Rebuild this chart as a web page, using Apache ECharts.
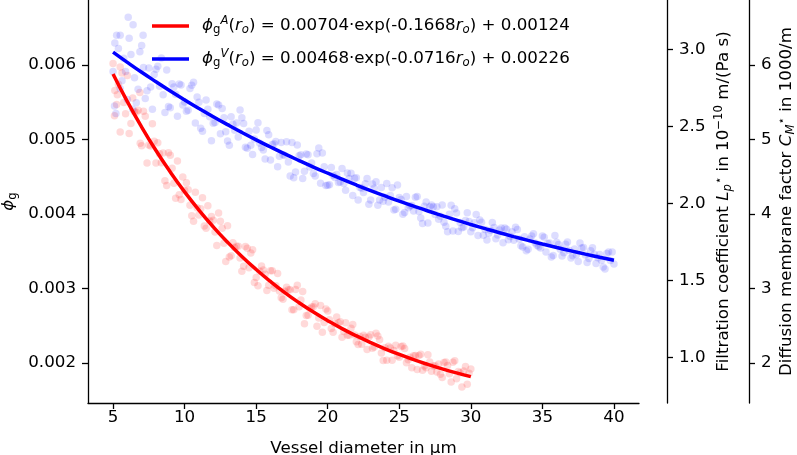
<!DOCTYPE html>
<html><head><meta charset="utf-8">
<script src="https://cdn.jsdelivr.net/npm/echarts@6/dist/echarts.min.js"></script>
<style>html,body{margin:0;padding:0;background:#fff}#c{width:797px;height:455px}</style>
</head><body><div id="c"></div>
<script>
// ---- data ----
const xTicks = [5,10,15,20,25,30,35,40];
const phiTicks = [0.002,0.003,0.004,0.005,0.006];
const lpTicks = [1.0,1.5,2.0,2.5,3.0];
const cmTicks = [2,3,4,5,6];

const redFitX = [5,6,7,8,9,10,11,12,13,14,15,16,17,18,19,20,21,22,23,24,25,26,27,28,29,30];
const redFitY = [0.005879,0.005508,0.005167,0.004852,0.004563,0.004297,0.004053,0.003828,0.003621,0.003430,0.003255,0.003094,0.002945,0.002809,0.002683,0.002568,0.002461,0.002364,0.002274,0.002191,0.002115,0.002045,0.001981,0.001921,0.001867,0.001817];
const blueFitX = [5,6,7,8,9,10,11,12,13,14,15,16,17,18,19,20,21,22,23,24,25,26,27,28,29,30,31,32,33,34,35,36,37,38,39,40];
const blueFitY = [0.006173,0.006035,0.005902,0.005775,0.005651,0.005532,0.005417,0.005306,0.005199,0.005095,0.004995,0.004899,0.004806,0.004717,0.004630,0.004547,0.004467,0.004389,0.004314,0.004242,0.004172,0.004105,0.004040,0.003978,0.003917,0.003859,0.003803,0.003748,0.003696,0.003646,0.003597,0.003550,0.003505,0.003461,0.003419,0.003378];

const redPoints = [[5.00,0.006019],[5.25,0.005471],[5.50,0.005974],[5.75,0.005496],[6.00,0.005858],[6.25,0.005213],[6.50,0.005373],[6.75,0.005392],[7.00,0.004915],[7.25,0.005312],[7.50,0.004926],[7.75,0.005211],[8.00,0.004684],[8.25,0.004808],[8.50,0.004820],[8.75,0.004383],[9.00,0.004787],[9.25,0.004413],[9.50,0.004710],[9.75,0.004196],[10.00,0.004319],[10.25,0.004324],[10.50,0.003977],[10.75,0.004290],[11.00,0.003987],[11.25,0.004217],[11.50,0.003809],[11.75,0.003906],[12.00,0.003916],[12.25,0.003578],[12.50,0.003901],[12.75,0.003607],[13.00,0.003841],[13.25,0.003441],[13.50,0.003548],[13.75,0.003566],[14.00,0.003232],[14.25,0.003562],[14.50,0.003277],[14.75,0.003519],[15.00,0.003147],[15.25,0.003233],[15.50,0.003247],[15.75,0.002972],[16.00,0.003238],[16.25,0.003003],[16.50,0.003200],[16.75,0.002874],[17.00,0.002963],[17.25,0.002983],[17.50,0.002715],[17.75,0.002987],[18.00,0.002755],[18.25,0.002958],[18.50,0.002638],[18.75,0.002733],[19.00,0.002755],[19.25,0.002492],[19.50,0.002770],[19.75,0.002543],[20.00,0.002698],[20.25,0.002463],[20.50,0.002528],[20.75,0.002540],[21.00,0.002344],[21.25,0.002541],[21.50,0.002374],[21.75,0.002518],[22.00,0.002286],[22.25,0.002355],[22.50,0.002371],[22.75,0.002180],[23.00,0.002378],[23.25,0.002214],[23.50,0.002363],[23.75,0.002134],[24.00,0.002204],[24.25,0.002224],[24.50,0.002036],[24.75,0.002238],[25.00,0.002076],[25.25,0.002228],[25.50,0.002002],[25.75,0.002076],[26.00,0.002097],[26.25,0.001912],[26.50,0.002117],[26.75,0.001958],[27.00,0.002111],[27.25,0.001888],[27.50,0.001964],[27.75,0.001988],[28.00,0.001804],[28.25,0.002012],[28.50,0.001855],[28.75,0.002011],[29.00,0.001789],[29.25,0.001868],[29.50,0.001894],[29.75,0.001713],[30.00,0.001921],
[5.125,0.005658],[5.625,0.005892],[6.125,0.005080],[6.625,0.005365],[7.125,0.005380],[7.625,0.004914],[8.125,0.004956],[8.625,0.004447],[9.125,0.004614],[9.625,0.004257],[10.125,0.004420],[10.625,0.003902],[11.125,0.004069],[11.625,0.004110],[12.125,0.003758],[12.625,0.003809],[13.125,0.003421],[13.625,0.003568],[14.125,0.003298],[14.625,0.003475],[15.125,0.003037],[15.625,0.003190],[16.125,0.003237],[16.625,0.002965],[17.125,0.003018],[17.625,0.002716],[18.125,0.002847],[18.625,0.002640],[19.125,0.002795],[19.625,0.002413],[20.125,0.002581],[20.625,0.002618],[21.125,0.002423],[21.625,0.002465],[22.125,0.002249],[22.625,0.002347],[23.125,0.002199],[23.625,0.002313],[24.125,0.002038],[24.625,0.002169],[25.125,0.002223],[25.625,0.002045],[26.125,0.002102],[26.625,0.001901],[27.125,0.002012],[27.625,0.001878],[28.125,0.002005],[28.625,0.001744],[29.125,0.001887],[29.625,0.001953],
[5.375,0.005740],[5.875,0.005344],[6.375,0.005555],[6.875,0.005630],[7.375,0.004685],[7.875,0.004975],[8.375,0.004688],[8.875,0.004823],[9.375,0.004211],[9.875,0.004498],[10.375,0.004117],[10.875,0.004083],[11.375,0.003837],[11.875,0.003966],[12.375,0.004014],[12.875,0.003361],[13.375,0.003615],[13.875,0.003410],[14.375,0.003540],[14.875,0.003079],[15.375,0.003303],[15.875,0.003042],[16.375,0.003038],[16.875,0.002856],[17.375,0.002984],[17.875,0.003042],[18.375,0.002528],[18.875,0.002753],[19.375,0.002604],[19.875,0.002726],[20.375,0.002411],[20.875,0.002552],[21.375,0.002373],[21.875,0.002376],[22.375,0.002252],[22.875,0.002350],[23.375,0.002399],[23.875,0.002032],[24.375,0.002201],[24.875,0.002098],[25.375,0.002193],[25.875,0.001937],[26.375,0.002099],[26.875,0.001937],[27.375,0.001958],[27.875,0.001850],[28.375,0.001966],[28.875,0.002030],[29.375,0.001679],[29.875,0.001862],
[5.5,0.00510],[5.1,0.00532],[5.3,0.00560],[6.9,0.00495]];

const bluePoints = [[5.00,0.005913],[5.25,0.006398],[5.50,0.005684],[5.75,0.006090],[6.00,0.005535],[6.25,0.006142],[6.50,0.005829],[6.75,0.005675],[7.00,0.006262],[7.25,0.005550],[7.50,0.005959],[7.75,0.005407],[8.00,0.005943],[8.25,0.005716],[8.50,0.005601],[8.75,0.005934],[9.00,0.005427],[9.25,0.005705],[9.50,0.005312],[9.75,0.005730],[10.00,0.005504],[10.25,0.005391],[10.50,0.005727],[10.75,0.005222],[11.00,0.005501],[11.25,0.005109],[11.50,0.005530],[11.75,0.005306],[12.00,0.005218],[12.25,0.005477],[12.50,0.005077],[12.75,0.005292],[13.00,0.004979],[13.25,0.005305],[13.50,0.005125],[13.75,0.005033],[14.00,0.005293],[14.25,0.004894],[14.50,0.005111],[14.75,0.004800],[15.00,0.005127],[15.25,0.004949],[15.50,0.004859],[15.75,0.005121],[16.00,0.004723],[16.25,0.004942],[16.50,0.004633],[16.75,0.004961],[17.00,0.004784],[17.25,0.004696],[17.50,0.004960],[17.75,0.004563],[18.00,0.004783],[18.25,0.004475],[18.50,0.004806],[18.75,0.004630],[19.00,0.004542],[19.25,0.004807],[19.50,0.004413],[19.75,0.004634],[20.00,0.004387],[20.25,0.004623],[20.50,0.004491],[20.75,0.004423],[21.00,0.004611],[21.25,0.004320],[21.50,0.004476],[21.75,0.004249],[22.00,0.004485],[22.25,0.004354],[22.50,0.004288],[22.75,0.004477],[23.00,0.004186],[23.25,0.004344],[23.50,0.004118],[23.75,0.004356],[24.00,0.004226],[24.25,0.004161],[24.50,0.004351],[24.75,0.004062],[25.00,0.004220],[25.25,0.003995],[25.50,0.004235],[25.75,0.004106],[26.00,0.004041],[26.25,0.004233],[26.50,0.003945],[26.75,0.004104],[27.00,0.003880],[27.25,0.004121],[27.50,0.003993],[27.75,0.003930],[28.00,0.004122],[28.25,0.003835],[28.50,0.003996],[28.75,0.003772],[29.00,0.004013],[29.25,0.003887],[29.50,0.003824],[29.75,0.004018],[30.00,0.003763],[30.25,0.003881],[30.50,0.003711],[30.75,0.003889],[31.00,0.003791],[31.25,0.003741],[31.50,0.003884],[31.75,0.003666],[32.00,0.003784],[32.25,0.003615],[32.50,0.003794],[32.75,0.003697],[33.00,0.003648],[33.25,0.003792],[33.50,0.003575],[33.75,0.003695],[34.00,0.003526],[34.25,0.003706],[34.50,0.003610],[34.75,0.003561],[35.00,0.003705],[35.25,0.003489],[35.50,0.003610],[35.75,0.003442],[36.00,0.003622],[36.25,0.003527],[36.50,0.003480],[36.75,0.003624],[37.00,0.003409],[37.25,0.003530],[37.50,0.003363],[37.75,0.003544],[38.00,0.003449],[38.25,0.003403],[38.50,0.003548],[38.75,0.003334],[39.00,0.003455],[39.25,0.003289],[39.50,0.003471],[39.75,0.003376],[40.00,0.003330],
[5.125,0.006296],[5.625,0.005787],[6.125,0.006358],[6.625,0.005492],[7.125,0.005966],[7.625,0.005703],[8.125,0.005984],[8.625,0.005361],[9.125,0.005748],[9.625,0.005745],[10.125,0.005378],[10.625,0.005768],[11.125,0.005151],[11.625,0.005404],[12.125,0.005227],[12.625,0.005415],[13.125,0.004922],[13.625,0.005222],[14.125,0.005214],[14.625,0.004922],[15.125,0.005225],[15.625,0.004737],[16.125,0.004931],[16.625,0.004775],[17.125,0.004971],[17.625,0.004486],[18.125,0.004794],[18.625,0.004795],[19.125,0.004510],[19.625,0.004820],[20.125,0.004393],[20.625,0.004529],[21.125,0.004409],[21.625,0.004546],[22.125,0.004188],[22.625,0.004406],[23.125,0.004401],[23.625,0.004189],[24.125,0.004409],[24.625,0.004054],[25.125,0.004196],[25.625,0.004082],[26.125,0.004225],[26.625,0.003872],[27.125,0.004096],[27.625,0.004097],[28.125,0.003890],[28.625,0.004116],[29.125,0.003766],[29.625,0.003913],[30.125,0.003816],[30.625,0.003920],[31.125,0.003652],[31.625,0.003817],[32.125,0.003813],[32.625,0.003655],[33.125,0.003822],[33.625,0.003557],[34.125,0.003664],[34.625,0.003579],[35.125,0.003687],[35.625,0.003424],[36.125,0.003592],[36.625,0.003594],[37.125,0.003439],[37.625,0.003609],[38.125,0.003348],[38.625,0.003459],[39.125,0.003378],[39.625,0.003489],
[5.375,0.006221],[5.875,0.005912],[6.375,0.005405],[6.875,0.006179],[7.375,0.005654],[7.875,0.005871],[8.375,0.006092],[8.875,0.005442],[9.375,0.005606],[9.875,0.005463],[10.375,0.005685],[10.875,0.005571],[11.375,0.005347],[11.875,0.004984],[12.375,0.005464],[12.875,0.005102],[13.375,0.005204],[13.875,0.005394],[14.375,0.004881],[14.875,0.005007],[15.375,0.004893],[15.875,0.005065],[16.375,0.004974],[16.875,0.004796],[17.375,0.004509],[17.875,0.004926],[18.375,0.004574],[18.875,0.004685],[19.375,0.004885],[19.875,0.004381],[20.375,0.004517],[20.875,0.004429],[21.375,0.004550],[21.875,0.004479],[22.375,0.004345],[22.875,0.004131],[23.375,0.004431],[23.875,0.004171],[24.375,0.004248],[24.875,0.004389],[25.375,0.004019],[25.875,0.004113],[26.375,0.004033],[26.875,0.004160],[27.375,0.004097],[27.875,0.003970],[28.375,0.003763],[28.875,0.004069],[29.375,0.003815],[29.875,0.003898],[30.375,0.003994],[30.875,0.003714],[31.375,0.003782],[31.875,0.003719],[32.375,0.003812],[32.875,0.003762],[33.375,0.003665],[33.875,0.003508],[34.375,0.003736],[34.875,0.003543],[35.375,0.003603],[35.875,0.003712],[36.375,0.003437],[36.875,0.003511],[37.375,0.003452],[37.875,0.003550],[38.375,0.003505],[38.875,0.003412],[39.375,0.003260],[39.875,0.003491],
[6.06,0.00664],[6.4,0.00654],[7.1,0.00640],[5.5,0.00640],[5.1,0.00545],[5.2,0.00535]];

const legendA = '{f|ϕ}{sub|g}{sup|A}{n|(}{it|r}{sub2|o}{n|) = 0.00704·exp(-0.1668}{it|r}{sub2|o}{n|) + 0.00124}';
const legendV = '{f|ϕ}{sub|g}{sup|V}{n|(}{it|r}{sub2|o}{n|) = 0.00468·exp(-0.0716}{it|r}{sub2|o}{n|) + 0.00226}';

// ---- styles ----
const FONT = 'DejaVu Sans';
const FS = 16.7;
const rich = {
  n: {fontSize: FS, fontFamily: FONT, color: '#000'},
  it: {fontSize: FS, fontFamily: FONT, fontStyle: 'italic', color: '#000'},
  f: {fontSize: FS, fontFamily: FONT, fontStyle: 'italic', color: '#000', padding: [0,0,0,8]},
  sub: {fontSize: 11.7, fontFamily: FONT, color: '#000', padding: [8,0,0,0]},
  sub2: {fontSize: 11.7, fontFamily: FONT, fontStyle: 'italic', color: '#000', padding: [8,0,0,0]},
  sup: {fontSize: 11.7, fontFamily: FONT, fontStyle: 'italic', color: '#000', padding: [0,0,10,0]},
  sup2: {fontSize: 11.7, fontFamily: FONT, color: '#000', padding: [0,0,10,0]}
};
const richAx = Object.assign({}, rich, {f: rich.it});

const axisCommon = {
  axisLine: {show: true, lineStyle: {color: '#000', width: 1.3}},
  splitLine: {show: false},
  nameMoveOverlap: false
};
const tickStyle = {color: '#000', width: 1.3};
const labelStyle = {color: '#000', fontSize: FS, fontFamily: FONT};

const chart = echarts.init(document.getElementById('c'), null, {renderer: 'canvas'});
chart.setOption({
  animation: false,
  backgroundColor: '#fff',
  grid: {left: 88, right: 158, top: 0, bottom: 52, containLabel: false, outerBoundsMode: 'none'},
  legend: {
    data: [{name: 'A', icon: 'rect'}, {name: 'V', icon: 'rect'}],
    orient: 'vertical', left: 147, top: 10,
    itemWidth: 37, itemHeight: 3.3, itemGap: 12,
    formatter: name => name === 'A' ? legendA : legendV,
    textStyle: {fontSize: FS, fontFamily: FONT, color: '#000', rich: rich}
  },
  xAxis: Object.assign({}, axisCommon, {
    type: 'value', min: 3.25, max: 41.75,
    name: 'Vessel diameter in μm', nameLocation: 'middle', nameGap: 37,
    nameTextStyle: {fontSize: FS, fontFamily: FONT, color: '#000'},
    axisTick: {show: true, length: 6, lineStyle: tickStyle, customValues: xTicks},
    axisLabel: Object.assign({margin: 6, customValues: xTicks}, labelStyle)
  }),
  yAxis: [
    Object.assign({}, axisCommon, {
      type: 'value', position: 'left', min: 0.001463, max: 0.006872,
      name: '{f|ϕ}{sub|g}', nameLocation: 'middle', nameGap: 69, nameRotate: 90,
      nameTextStyle: {fontSize: FS, fontFamily: FONT, color: '#000', rich: richAx},
      axisTick: {show: true, length: 6, lineStyle: tickStyle, customValues: phiTicks},
      axisLabel: Object.assign({margin: 12, customValues: phiTicks, formatter: v => v.toFixed(3)}, labelStyle)
    }),
    Object.assign({}, axisCommon, {
      type: 'value', position: 'right', offset: 28, min: 0.7066, max: 3.319,
      name: '{n|Filtration coefficient }{it|L}{sub2|p}{sup2|⋆}{n| in 10}{sup2|−10}{n| m/(Pa s)}',
      nameLocation: 'middle', nameGap: 46, nameRotate: 90,
      nameTextStyle: {fontSize: FS, fontFamily: FONT, color: '#000', rich: richAx},
      axisTick: {show: true, length: 6, lineStyle: tickStyle, customValues: lpTicks},
      axisLabel: Object.assign({margin: 12, customValues: lpTicks, formatter: v => v.toFixed(1)}, labelStyle)
    }),
    Object.assign({}, axisCommon, {
      type: 'value', position: 'right', offset: 110, min: 1.463, max: 6.872,
      name: '{n|Diffusion membrane factor }{it|C}{sub2|M}{sup2|⋆}{n| in 1000/m}',
      nameLocation: 'middle', nameGap: 27, nameRotate: 90,
      nameTextStyle: {fontSize: FS, fontFamily: FONT, color: '#000', rich: richAx},
      axisTick: {show: true, length: 6, lineStyle: tickStyle, customValues: cmTicks},
      axisLabel: Object.assign({margin: 12, customValues: cmTicks, formatter: v => String(v)}, labelStyle)
    })
  ],
  series: [
    {type: 'scatter', name: 'A pts', yAxisIndex: 0, data: redPoints, symbolSize: 7.5,
     itemStyle: {color: 'rgba(255,0,0,0.19)'}, z: 2, silent: true},
    {type: 'scatter', name: 'V pts', yAxisIndex: 0, data: bluePoints, symbolSize: 7.5,
     itemStyle: {color: 'rgba(0,0,255,0.17)'}, z: 2, silent: true},
    {type: 'line', name: 'A', yAxisIndex: 0, data: redFitX.map((x, i) => [x, redFitY[i]]),
     smooth: true, showSymbol: false, symbol: 'none', color: '#ff0000',
     lineStyle: {color: '#ff0000', width: 3.5}, z: 5},
    {type: 'line', name: 'V', yAxisIndex: 0, data: blueFitX.map((x, i) => [x, blueFitY[i]]),
     smooth: true, showSymbol: false, symbol: 'none', color: '#0000ff',
     lineStyle: {color: '#0000ff', width: 3.5}, z: 5}
  ]
});
</script></body></html>
